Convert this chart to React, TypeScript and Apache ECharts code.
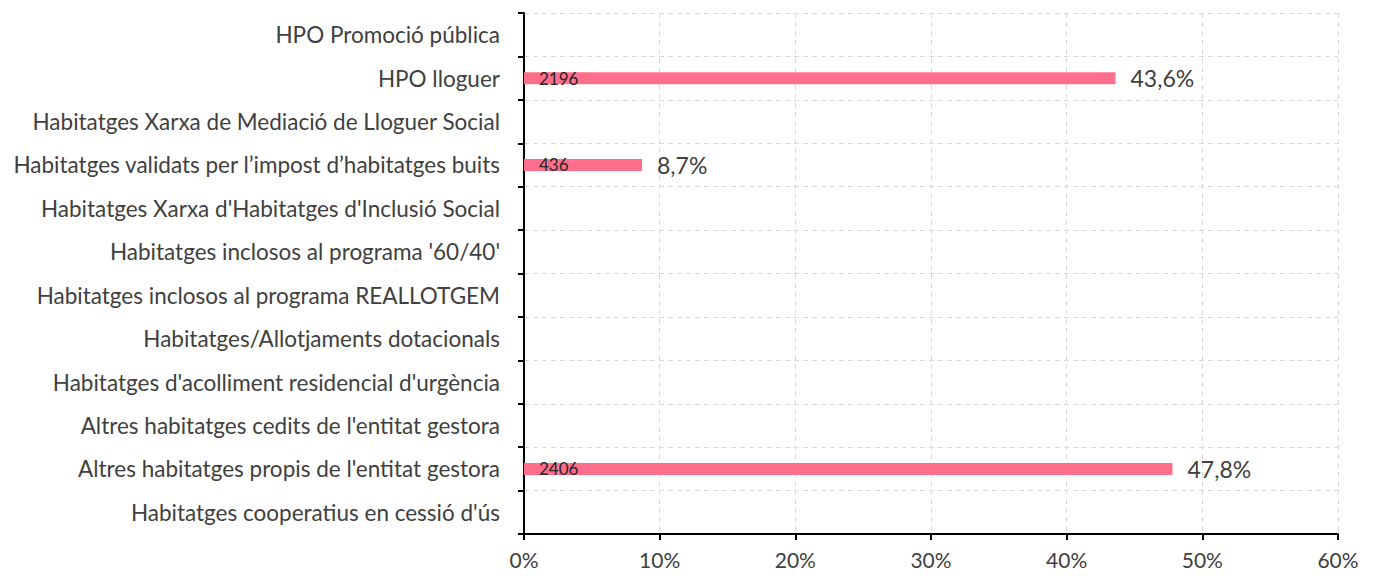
import React, { useEffect, useRef } from "react";
import * as echarts from "echarts";

const categories = [
  "HPO Promoció pública",
  "HPO lloguer",
  "Habitatges Xarxa de Mediació de Lloguer Social",
  "Habitatges validats per l’impost d’habitatges buits",
  "Habitatges Xarxa d'Habitatges d'Inclusió Social",
  "Habitatges inclosos al programa '60/40'",
  "Habitatges inclosos al programa REALLOTGEM",
  "Habitatges/Allotjaments dotacionals",
  "Habitatges d'acolliment residencial d'urgència",
  "Altres habitatges cedits de l'entitat gestora",
  "Altres habitatges propis de l'entitat gestora",
  "Habitatges cooperatius en cessió d'ús",
];
const percentages: (number | null)[] = [null, 43.6, null, 8.7, null, null, null, null, null, null, 47.8, null];
const counts: (number | null)[] = [null, 2196, null, 436, null, null, null, null, null, null, 2406, null];
const xTicks = [0, 10, 20, 30, 40, 50, 60];

const FONT = "Lato";

export default function App() {
  const ref = useRef<HTMLDivElement>(null);
  useEffect(() => {
    if (!ref.current) return;
    const chart = echarts.init(ref.current, null, { renderer: "svg" });
    chart.setOption({
      animation: false,
      textStyle: { fontFamily: FONT },
      grid: { left: 524, right: 38, top: 13, bottom: 42, containLabel: false },
      xAxis: {
        type: "value",
        min: xTicks[0],
        max: xTicks[xTicks.length - 1],
        interval: 10,
        axisLine: { show: true, lineStyle: { color: "#000", width: 2 } },
        axisTick: { show: true, length: 6, lineStyle: { color: "#000", width: 2 } },
        axisLabel: { formatter: (v: number) => v + "%", color: "#404040", fontSize: 21, fontFamily: FONT, margin: 15 },
        splitLine: { show: true, lineStyle: { color: "#d9d9d9", type: [5, 4], width: 1 } },
      },
      yAxis: {
        type: "category",
        inverse: true,
        data: categories,
        axisLine: { show: true, lineStyle: { color: "#000", width: 2 } },
        axisTick: { show: true, length: 6, lineStyle: { color: "#000", width: 2 } },
        axisLabel: { color: "#404040", fontSize: 22.5, fontFamily: FONT, margin: 24 },
        splitLine: { show: true, lineStyle: { color: "#d9d9d9", type: [5, 4], width: 1 } },
      },
      series: [
        {
          type: "bar",
          data: percentages,
          barWidth: 12,
          itemStyle: { color: "#ff6f8b" },
          label: {
            show: true,
            position: "right",
            distance: 15,
            color: "#404040",
            fontSize: 23,
            fontFamily: FONT,
            formatter: (p: any) => (p.value == null ? "" : p.value.toFixed(1).replace(".", ",") + "%"),
          },
        },
        {
          type: "bar",
          data: percentages,
          barWidth: 12,
          barGap: "-100%",
          itemStyle: { color: "rgba(0,0,0,0)" },
          label: {
            show: true,
            position: "insideLeft",
            distance: 15,
            color: "#262626",
            fontSize: 17,
            fontFamily: FONT,
            formatter: (p: any) => (counts[p.dataIndex] == null ? "" : String(counts[p.dataIndex])),
          },
        },
      ],
    });
    return () => chart.dispose();
  }, []);
  return (
    <div
      ref={ref}
      style={{ position: "fixed", left: 0, top: 0, width: 1376, height: 576, background: "#fff" }}
    />
  );
}
